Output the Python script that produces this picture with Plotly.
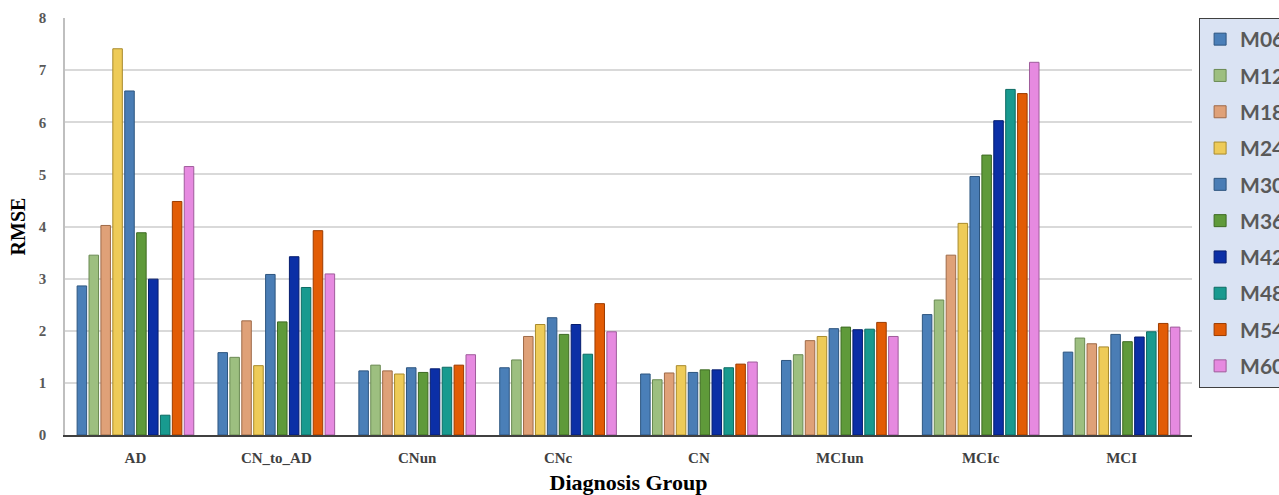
import plotly.graph_objects as go

# Diagnosis groups on the x axis
groups = ["AD", "CN_to_AD", "CNun", "CNc", "CN", "MCIun", "MCIc", "MCI"]

# Follow-up visits (one bar series each)
visits = ["M06", "M12", "M18", "M24", "M30", "M36", "M42", "M48", "M54", "M60"]

# RMSE per visit, ordered like `groups`
m06 = [2.86, 1.58, 1.23, 1.29, 1.17, 1.43, 2.31, 1.59]
m12 = [3.45, 1.49, 1.34, 1.44, 1.06, 1.54, 2.59, 1.86]
m18 = [4.02, 2.19, 1.23, 1.89, 1.19, 1.81, 3.45, 1.75]
m24 = [7.41, 1.33, 1.17, 2.12, 1.33, 1.89, 4.06, 1.69]
m30 = [6.60, 3.08, 1.29, 2.25, 1.20, 2.04, 4.96, 1.93]
m36 = [3.88, 2.17, 1.20, 1.93, 1.25, 2.07, 5.37, 1.79]
m42 = [2.99, 3.42, 1.27, 2.12, 1.25, 2.02, 6.03, 1.88]
m48 = [0.38, 2.83, 1.30, 1.55, 1.29, 2.03, 6.63, 1.98]
m54 = [4.48, 3.92, 1.34, 2.52, 1.36, 2.16, 6.55, 2.14]
m60 = [5.15, 3.09, 1.54, 1.98, 1.40, 1.89, 7.15, 2.07]

series = [m06, m12, m18, m24, m30, m36, m42, m48, m54, m60]

fills = ["#4a7fb8", "#9dbf80", "#dfa178", "#eecb58", "#4a7db5",
         "#5f9a3a", "#0b2fa6", "#189a8f", "#e25c05", "#e68ae0"]
edges = ["#2e5680", "#6a8a52", "#9e6a48", "#a88a2c", "#2d557f",
         "#3d6a22", "#061d6e", "#0d6b63", "#9c3c00", "#9f5c9b"]

yticks = [0, 1, 2, 3, 4, 5, 6, 7, 8]

fig = go.Figure()
for name, vals, fc, ec in zip(visits, series, fills, edges):
    fig.add_trace(go.Bar(
        name=name, x=groups, y=vals, legendgroup=name,
        marker=dict(color=fc, line=dict(color=ec, width=1)),
    ))

serif = "Liberation Serif"

fig.update_layout(
    width=1279, height=495,
    paper_bgcolor="white", plot_bgcolor="white",
    margin=dict(l=65, r=87, t=18, b=60, autoexpand=False),
    barmode="group", bargap=0.155, bargroupgap=0.2,
    showlegend=True,
    legend=dict(
        x=1.0063, xanchor="left", y=1.0, yanchor="top",
        bgcolor="#dae3f3", bordercolor="#404040", borderwidth=1,
        font=dict(family="Lato", size=21, color="#595959", weight=700),
        traceorder="grouped", tracegroupgap=6,
    ),
    xaxis=dict(
        title=dict(text="Diagnosis Group", standoff=16,
                   font=dict(family=serif, size=22, color="black", weight=700)),
        tickfont=dict(family=serif, size=15, color="#404040", weight=700),
        showline=True, linecolor="#404040", linewidth=2,
        ticks="", ticklabelstandoff=8, showgrid=False,
    ),
    yaxis=dict(
        title=dict(text="RMSE", standoff=8,
                   font=dict(family=serif, size=20, color="black", weight=700)),
        range=[0, 8], tickvals=yticks,
        tickfont=dict(family=serif, size=15, color="#595959", weight=700),
        showline=True, linecolor="#bfbfbf", linewidth=1.5,
        showgrid=True, gridcolor="#d9d9d9", gridwidth=1.5,
        zeroline=False, ticks="", ticklabelstandoff=14,
    ),
)

fig.write_html("out.html")
